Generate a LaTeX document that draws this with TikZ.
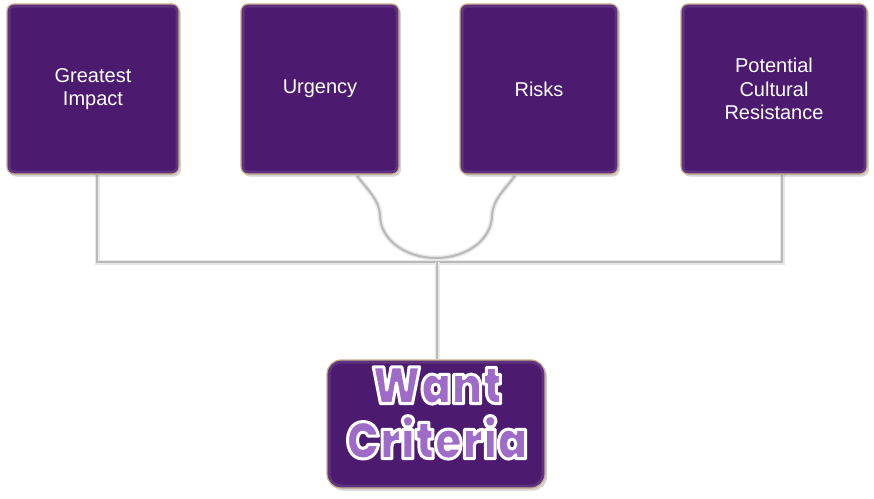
\documentclass[tikz,border=0pt]{standalone}
\usepackage{fontspec}
\setmainfont{Liberation Sans}
\IfFontExistsTF{Poppins Black}{\newfontfamily\wantfont{Poppins Black}[FakeStretch=0.86]\newcommand\wantsize{\fontsize{52}{55}}}{%
    \newfontfamily\wantfont{Liberation Sans}[UprightFont=* Bold]\newcommand\wantsize{\fontsize{50}{55}}}
\usetikzlibrary{shadows,backgrounds}
\definecolor{boxpurple}{RGB}{76,27,112}
\definecolor{boxedge}{RGB}{200,172,140}
\definecolor{lightpurple}{RGB}{158,108,200}
\newcommand\olt[1]{\textcolor{lightpurple}{\special{pdf:literal direct 2 Tr 3 w 1 1 1 RG 1 j}#1\special{pdf:literal direct 0 Tr 0.4 w}}}
\begin{document}
\begin{tikzpicture}[x=1pt,y=-1pt]
\useasboundingbox (0,0) rectangle (874,498);
\tikzset{
  card/.style={draw=boxedge, line width=1.2pt, fill=boxpurple, rounded corners=7pt,
    drop shadow={shadow xshift=2pt, shadow yshift=-2.5pt, opacity=0.35},
    inner sep=0pt, text=white, align=center, minimum height=170pt,
    font=\fontsize{20}{23.5}\selectfont,
    path picture={\draw[line width=7pt, boxpurple!70!white, opacity=0.35]
      (path picture bounding box.north west) rectangle (path picture bounding box.south east);}},
  wantbox/.style={card, rounded corners=14pt, minimum width=218pt, minimum height=128pt},
  wanttext/.style={inner sep=0pt, align=center, font=\wantsize\wantfont},
  conn/.style={draw=gray!55, line width=2pt, preaction={draw=gray!18, line width=5pt}}
}
\node[card, minimum width=172pt] (b1) at (93,89) {Greatest\\Impact};
\node[card, minimum width=158pt] (b2) at (320,89) {Urgency};
\node[card, minimum width=158pt] (b3) at (539,89) {Risks};
\node[card, minimum width=186pt] (b4) at (774,89) {Potential\\Cultural\\Resistance};
\node[wantbox] (want) at (436,424) {};
\node[wanttext] (wt) at (437,413) {\olt{Want}\\\olt{Criteria}};
\coordinate (j) at (437,262);
\coordinate (u2) at (357,176);
\coordinate (u3) at (515,176);
\coordinate (ub) at (436,258);
\begin{scope}[on background layer]
\draw[conn] ([xshift=4pt]b1.south) |- (j);
\draw[conn] ([xshift=8pt]b4.south) |- (j);
\draw[conn] (j) -- (want.north -| j);
\draw[conn] (u2) .. controls (368,190) and (379,200) .. (380,215)
  .. controls (380,240) and (406,258) .. (ub)
  .. controls (466,258) and (492,240) .. (492,215)
  .. controls (493,200) and (504,190) .. (u3);
\end{scope}
\end{tikzpicture}
\end{document}
